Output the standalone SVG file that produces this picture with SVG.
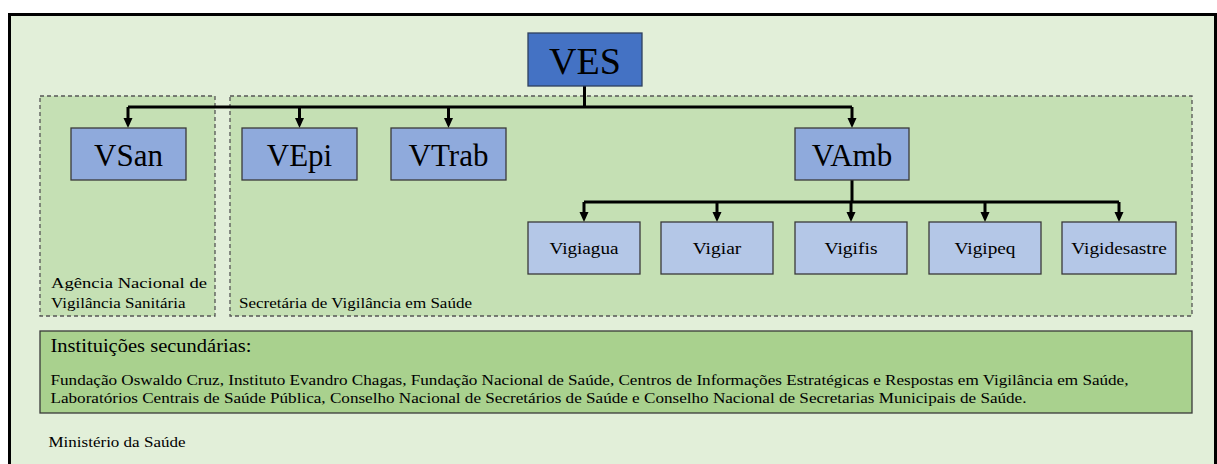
<svg xmlns="http://www.w3.org/2000/svg" width="1217" height="464" viewBox="0 0 1217 464">
<style>
.grp{fill:#c5e0b4;stroke:#555;stroke-width:1.3;stroke-dasharray:4 3}
.l1{fill:#8faadc;stroke:#3a3a3a;stroke-width:1.3}
.l2{fill:#b4c7e7;stroke:#3a3a3a;stroke-width:1.3}
.c{fill:none;stroke:#000;stroke-width:3}
</style>
<defs>
<marker id="ah" markerUnits="userSpaceOnUse" markerWidth="10" markerHeight="10" viewBox="0 0 10 10" refX="5" refY="5" orient="0">
<path d="M0.5,0 L9.5,0 L5,10 Z" fill="#000"/>
</marker>
</defs>
<rect x="0" y="0" width="1217" height="464" fill="#fff"/>
<rect x="9.5" y="14.5" width="1206" height="460" fill="#e2efd9" stroke="#000" stroke-width="3"/>
<g font-family="Liberation Serif, Times New Roman, serif" fill="#000">
<g id="anvisa">
<rect class="grp" x="40" y="96" width="175" height="220"/>
<text x="51" y="288" font-size="14" textLength="156" lengthAdjust="spacingAndGlyphs">Agência Nacional de</text>
<text x="51" y="308" font-size="14" textLength="134.5" lengthAdjust="spacingAndGlyphs">Vigilância Sanitária</text>
</g>
<g id="svs">
<rect class="grp" x="230" y="96" width="962" height="220"/>
<text x="239" y="308" font-size="14" textLength="233" lengthAdjust="spacingAndGlyphs">Secretária de Vigilância em Saúde</text>
</g>
<g id="connectors">
<path class="c" d="M584.5,86 V107"/>
<path class="c" d="M128,107 H852"/>
<path class="c" d="M128,107 V123" marker-end="url(#ah)"/>
<path class="c" d="M299.5,107 V123" marker-end="url(#ah)"/>
<path class="c" d="M448.5,107 V123" marker-end="url(#ah)"/>
<path class="c" d="M852,107 V123" marker-end="url(#ah)"/>
<path class="c" d="M852,180 V202"/>
<path class="c" d="M584,202 H1119"/>
<path class="c" d="M584,202 V217" marker-end="url(#ah)"/>
<path class="c" d="M717,202 V217" marker-end="url(#ah)"/>
<path class="c" d="M851,202 V217" marker-end="url(#ah)"/>
<path class="c" d="M985,202 V217" marker-end="url(#ah)"/>
<path class="c" d="M1119,202 V217" marker-end="url(#ah)"/>
</g>
<g id="ves">
<rect x="528" y="33" width="114" height="53" fill="#4472c4" stroke="#2f3f5f" stroke-width="1.3"/>
<text x="585" y="74" font-size="38" text-anchor="middle">VES</text>
</g>
<g id="vsan">
<rect class="l1" x="71" y="128" width="115" height="52"/>
<text x="128.5" y="166" font-size="31" text-anchor="middle">VSan</text>
</g>
<g id="vepi">
<rect class="l1" x="242" y="128" width="115" height="52"/>
<text x="299.5" y="166" font-size="31" text-anchor="middle">VEpi</text>
</g>
<g id="vtrab">
<rect class="l1" x="391" y="128" width="115" height="52"/>
<text x="448.5" y="166" font-size="31" text-anchor="middle">VTrab</text>
</g>
<g id="vamb">
<rect class="l1" x="795" y="128" width="114" height="52"/>
<text x="852" y="166" font-size="31" text-anchor="middle">VAmb</text>
</g>
<g id="vigiagua">
<rect class="l2" x="528" y="222" width="112" height="52"/>
<text x="584" y="254" font-size="17" text-anchor="middle" textLength="69" lengthAdjust="spacingAndGlyphs">Vigiagua</text>
</g>
<g id="vigiar">
<rect class="l2" x="661" y="222" width="112" height="52"/>
<text x="717" y="254" font-size="17" text-anchor="middle" textLength="48.5" lengthAdjust="spacingAndGlyphs">Vigiar</text>
</g>
<g id="vigifis">
<rect class="l2" x="795" y="222" width="112" height="52"/>
<text x="851" y="254" font-size="17" text-anchor="middle" textLength="53" lengthAdjust="spacingAndGlyphs">Vigifis</text>
</g>
<g id="vigipeq">
<rect class="l2" x="929" y="222" width="112" height="52"/>
<text x="985" y="254" font-size="17" text-anchor="middle" textLength="61" lengthAdjust="spacingAndGlyphs">Vigipeq</text>
</g>
<g id="vigidesastre">
<rect class="l2" x="1062" y="222" width="114" height="52"/>
<text x="1119" y="254" font-size="17" text-anchor="middle" textLength="95.5" lengthAdjust="spacingAndGlyphs">Vigidesastre</text>
</g>
<g id="secundarias">
<rect x="40" y="331" width="1152" height="82" fill="#a9d18e" stroke="#3a3a3a" stroke-width="1.3"/>
<text x="50.5" y="352" font-size="18" textLength="201" lengthAdjust="spacingAndGlyphs">Instituições secundárias:</text>
<text x="50.5" y="385" font-size="14" textLength="1078" lengthAdjust="spacingAndGlyphs">Fundação Oswaldo Cruz, Instituto Evandro Chagas, Fundação Nacional de Saúde, Centros de Informações Estratégicas e Respostas em Vigilância em Saúde,</text>
<text x="50.5" y="403" font-size="14" textLength="976" lengthAdjust="spacingAndGlyphs">Laboratórios Centrais de Saúde Pública, Conselho Nacional de Secretários de Saúde e Conselho Nacional de Secretarias Municipais de Saúde.</text>
</g>
<g id="ministerio">
<text x="48.5" y="446.5" font-size="15" textLength="137" lengthAdjust="spacingAndGlyphs">Ministério da Saúde</text>
</g>
</g>
</svg>
